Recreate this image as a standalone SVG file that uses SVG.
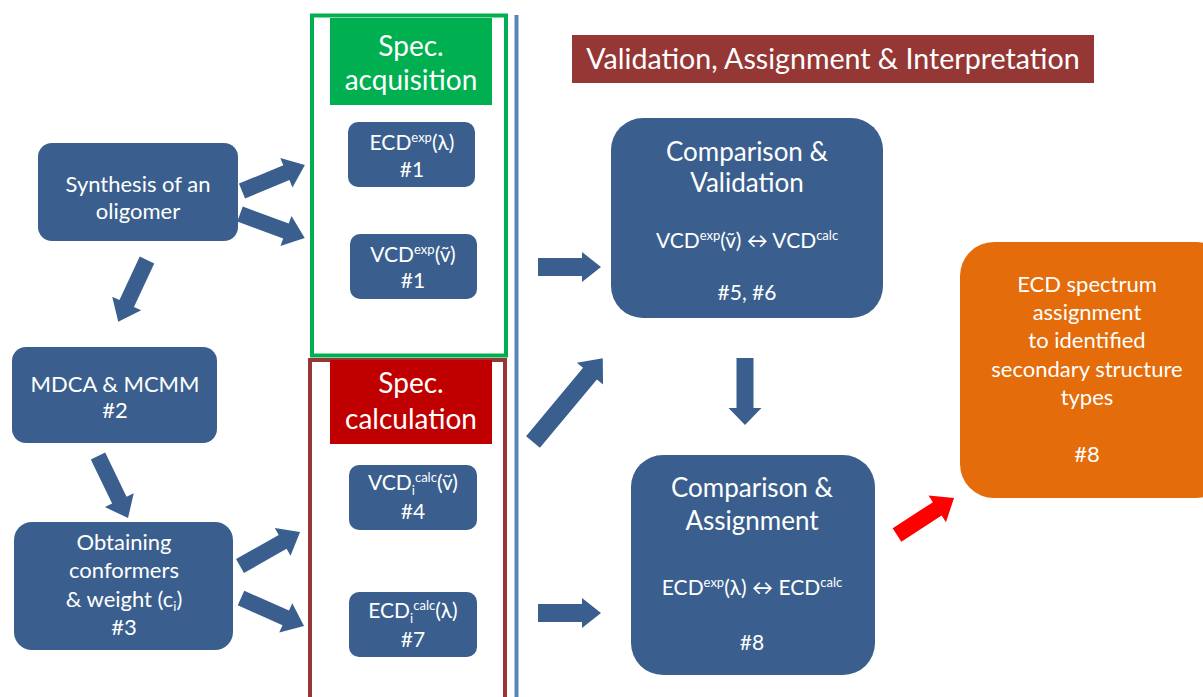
<svg xmlns="http://www.w3.org/2000/svg" width="1203" height="697" viewBox="0 0 1203 697">
<style>
text{font-family:Lato,"Open Sans","Liberation Sans",sans-serif;fill:#fff;text-anchor:middle}
.n{fill:#3A5F8E}
.a{fill:#3A5F8E}
.t20{font-size:21px}
.t22{font-size:22px}
.t26{font-size:26px}
.t28{font-size:28px}
.sup{font-size:13px}
</style>
<rect width="1203" height="697" fill="#fff"/>
<!-- frames -->
<g id="frame-acq">
<rect x="312" y="15.5" width="194" height="340" fill="#fff" stroke="#00B050" stroke-width="4"/>
<rect x="330" y="18" width="162" height="87" fill="#00B050"/>
<text class="t28" x="411" y="56">Spec.</text>
<text class="t28" x="411" y="90">acquisition</text>
</g>
<g id="frame-calc">
<rect x="310" y="360" width="195" height="360" fill="none" stroke="#953735" stroke-width="4"/>
<rect x="330" y="360" width="162" height="84" fill="#C00000"/>
<text class="t28" x="411" y="393">Spec.</text>
<text class="t28" x="411" y="429">calculation</text>
</g>
<line x1="516.5" y1="15" x2="516.5" y2="697" stroke="#5B84B8" stroke-width="4"/>
<g id="banner">
<rect x="572" y="35" width="522" height="48" fill="#953735"/>
<text x="833" y="69" style="font-size:28.6px">Validation, Assignment &amp; Interpretation</text>
</g>
<!-- nodes -->
<g id="n-synth"><rect class="n" x="38" y="143" width="200" height="98" rx="14"/>
<text class="t22" x="138" y="192">Synthesis of an</text><text class="t22" x="138" y="219">oligomer</text></g>
<g id="n-mdca"><rect class="n" x="12" y="347" width="205" height="96" rx="14"/>
<text class="t22" x="115" y="392">MDCA &amp; MCMM</text><text class="t22" x="115" y="418">#2</text></g>
<g id="n-obt"><rect class="n" x="14" y="522" width="219" height="128" rx="18"/>
<text class="t22" x="124" y="550">Obtaining</text><text class="t22" x="124" y="578">conformers</text>
<text class="t22" x="124" y="607">&amp; weight (c<tspan class="sup" dy="4">i</tspan><tspan dy="-4">)</tspan></text><text class="t22" x="124" y="635">#3</text></g>
<g id="n-ecdexp"><rect class="n" x="348" y="122" width="127" height="65" rx="10"/>
<text class="t20" x="412" y="150">ECD<tspan class="sup" dy="-8">exp</tspan><tspan dy="8">(λ)</tspan></text><text class="t20" x="412" y="177">#1</text></g>
<g id="n-vcdexp"><rect class="n" x="350" y="234" width="127" height="65" rx="10"/>
<text class="t20" x="413" y="262">VCD<tspan class="sup" dy="-8">exp</tspan><tspan dy="8">(ṽ)</tspan></text><text class="t20" x="413" y="288">#1</text></g>
<g id="n-vcdcalc"><rect class="n" x="349" y="465" width="128" height="65" rx="10"/>
<text class="t20" x="413" y="490">VCD<tspan class="sup" dy="5">i</tspan><tspan class="sup" dy="-13">calc</tspan><tspan dy="8">(ṽ)</tspan></text><text class="t20" x="413" y="519">#4</text></g>
<g id="n-ecdcalc"><rect class="n" x="349" y="592" width="128" height="65" rx="10"/>
<text class="t20" x="413" y="618">ECD<tspan class="sup" dy="5">i</tspan><tspan class="sup" dy="-13">calc</tspan><tspan dy="8">(λ)</tspan></text><text class="t20" x="413" y="647">#7</text></g>
<g id="n-compval"><rect class="n" x="611" y="118" width="272" height="200" rx="32"/>
<text class="t26" x="747" y="161">Comparison &amp;</text><text class="t26" x="747" y="192">Validation</text>
<text class="t20" x="747" y="248">VCD<tspan class="sup" dy="-8">exp</tspan><tspan dy="8">(ṽ) ↔ VCD</tspan><tspan class="sup" dy="-8">calc</tspan></text>
<text class="t20" x="747" y="300">#5, #6</text></g>
<g id="n-compass"><rect class="n" x="631" y="455" width="244" height="220" rx="32"/>
<text class="t26" x="752" y="497">Comparison &amp;</text><text class="t26" x="752" y="530">Assignment</text>
<text class="t20" x="752" y="595">ECD<tspan class="sup" dy="-8">exp</tspan><tspan dy="8">(λ) ↔ ECD</tspan><tspan class="sup" dy="-8">calc</tspan></text>
<text class="t20" x="752" y="650">#8</text></g>
<g id="n-ecdassign"><rect x="960" y="242" width="270" height="256" rx="34" fill="#E46C0A"/>
<text class="t22" x="1087" y="292">ECD spectrum</text><text class="t22" x="1087" y="320">assignment</text>
<text class="t22" x="1087" y="348">to identified</text><text class="t22" x="1087" y="377">secondary structure</text>
<text class="t22" x="1087" y="405">types</text><text class="t22" x="1087" y="462">#8</text></g>
<!-- connectors -->
<g id="connectors">
<polygon class="a" transform="translate(242,191) rotate(-22.4)" points="0,-8 48,-8 48,-16 68,0 48,16 48,8 0,8"/>
<polygon class="a" transform="translate(240,214) rotate(20.3)" points="0,-8 49,-8 49,-16 69,0 49,16 49,8 0,8"/>
<polygon class="a" transform="translate(147,260) rotate(115)" points="0,-8 48,-8 48,-16 68,0 48,16 48,8 0,8"/>
<polygon class="a" transform="translate(98,456) rotate(64.2)" points="0,-8 49,-8 49,-16 69,0 49,16 49,8 0,8"/>
<polygon class="a" transform="translate(240,566) rotate(-29.5)" points="0,-8 49,-8 49,-16 69,0 49,16 49,8 0,8"/>
<polygon class="a" transform="translate(241,598) rotate(24)" points="0,-8 49,-8 49,-16 69,0 49,16 49,8 0,8"/>
<polygon class="a" transform="translate(538,267)" points="0,-9 44,-9 44,-15 63,0 44,15 44,9 0,9"/>
<polygon class="a" transform="translate(538,613)" points="0,-9 44,-9 44,-15 63,0 44,15 44,9 0,9"/>
<polygon class="a" transform="translate(533,442) rotate(-50.2)" points="0,-9 89,-9 89,-17 109,0 89,17 89,9 0,9"/>
<polygon class="a" transform="translate(745,358) rotate(90)" points="0,-8.5 50,-8.5 50,-16.5 67,0 50,16.5 50,8.5 0,8.5"/>
<polygon fill="#FF0000" transform="translate(897,535) rotate(-33)" points="0,-8 48,-8 48,-16 68,0 48,16 48,8 0,8"/>
</g>
</svg>
